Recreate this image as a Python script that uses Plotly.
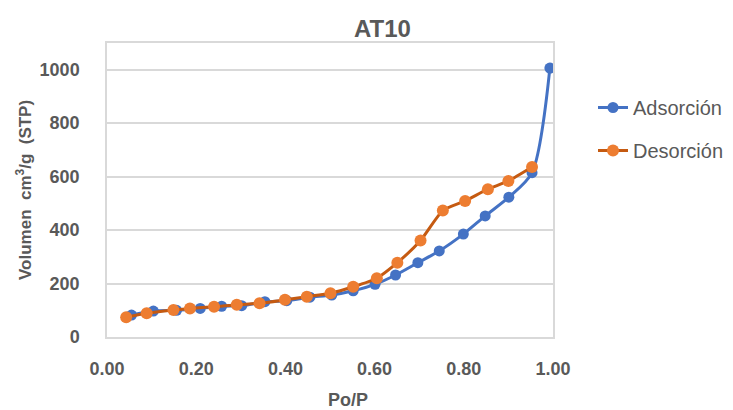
import plotly.graph_objects as go

ads_x = [0.055, 0.104, 0.156, 0.209, 0.257, 0.302, 0.354, 0.403, 0.455, 0.504,
         0.552, 0.601, 0.647, 0.697, 0.745, 0.799, 0.848, 0.901, 0.953, 0.993]
ads_y = [82, 97, 100, 107, 115, 117, 132, 136, 149, 157,
         173, 197, 232, 278, 322, 385, 453, 523, 615, 1006]

des_x = [0.043, 0.089, 0.149, 0.186, 0.240, 0.291, 0.342, 0.399, 0.448, 0.501,
         0.552, 0.605, 0.651, 0.703, 0.753, 0.803, 0.854, 0.900, 0.953]
des_y = [74, 89, 101, 107, 113, 121, 126, 139, 151, 164,
         188, 220, 278, 361, 473, 509, 553, 584, 636]

x_ticks = [0.0, 0.2, 0.4, 0.6, 0.8, 1.0]
y_ticks = [0, 200, 400, 600, 800, 1000]

FONT = "Liberation Sans, Arial, sans-serif"
GREY = "#595959"

fig = go.Figure()
fig.add_trace(go.Scatter(
    x=ads_x, y=ads_y, name="Adsorción", mode="lines+markers",
    line=dict(color="#4472C4", width=3, shape="spline", smoothing=0.8),
    marker=dict(color="#4472C4", size=11),
    legendgroup="a",
))
fig.add_trace(go.Scatter(
    x=des_x, y=des_y, name="Desorción", mode="lines+markers",
    line=dict(color="#C55A11", width=3, shape="spline", smoothing=0.6),
    marker=dict(color="#ED7D31", size=12),
    legendgroup="d",
))

fig.update_layout(
    width=733, height=410,
    margin=dict(l=99, r=188, t=35, b=81, autoexpand=False),
    paper_bgcolor="white", plot_bgcolor="white",
    font=dict(family=FONT, color=GREY),
    showlegend=True,
    legend=dict(x=(593 - 107) / 446, xanchor="left", y=1 - (129 - 43) / 294, yanchor="middle",
                font=dict(size=20, color=GREY), tracegroupgap=14,
                bgcolor="rgba(0,0,0,0)"),
    annotations=[
        dict(text="<b>AT10</b>", xref="paper", yref="paper",
             x=(382 - 107) / 446, y=1.0, yshift=14.5, xanchor="center", yanchor="middle",
             showarrow=False, font=dict(size=24, color=GREY, family=FONT)),
        dict(text="<b>Po/P</b>", xref="paper", yref="paper",
             x=(348 - 107) / 446, y=0, yshift=-63, xanchor="center", yanchor="middle",
             showarrow=False, font=dict(size=18, color=GREY, family=FONT)),
        dict(text="<b>Volumen  cm<sup>3</sup>/g  (STP)</b>", xref="paper", yref="paper",
             x=0, xshift=-83, y=0.5, xanchor="center", yanchor="middle", textangle=-90,
             showarrow=False, font=dict(size=17, color=GREY, family=FONT)),
    ],
)

fig.update_xaxes(
    range=[0, 1], tickvals=x_ticks, tickformat=".2f", automargin=False,
    showgrid=False, zeroline=False,
    showline=True, linecolor="#d9d9d9", linewidth=1.5, mirror=True,
    ticks="", ticklabelstandoff=15,
    tickfont=dict(family=FONT, size=18, color=GREY, weight="bold"),
)
fig.update_yaxes(
    range=[0, 1100], tickvals=y_ticks, automargin=False,
    showgrid=True, gridcolor="#d9d9d9", gridwidth=1.5, zeroline=False,
    showline=True, linecolor="#d9d9d9", linewidth=1.5, mirror=True,
    ticks="", ticklabelstandoff=22,
    tickfont=dict(family=FONT, size=18, color=GREY, weight="bold"),
)

fig.write_html("out.html")
